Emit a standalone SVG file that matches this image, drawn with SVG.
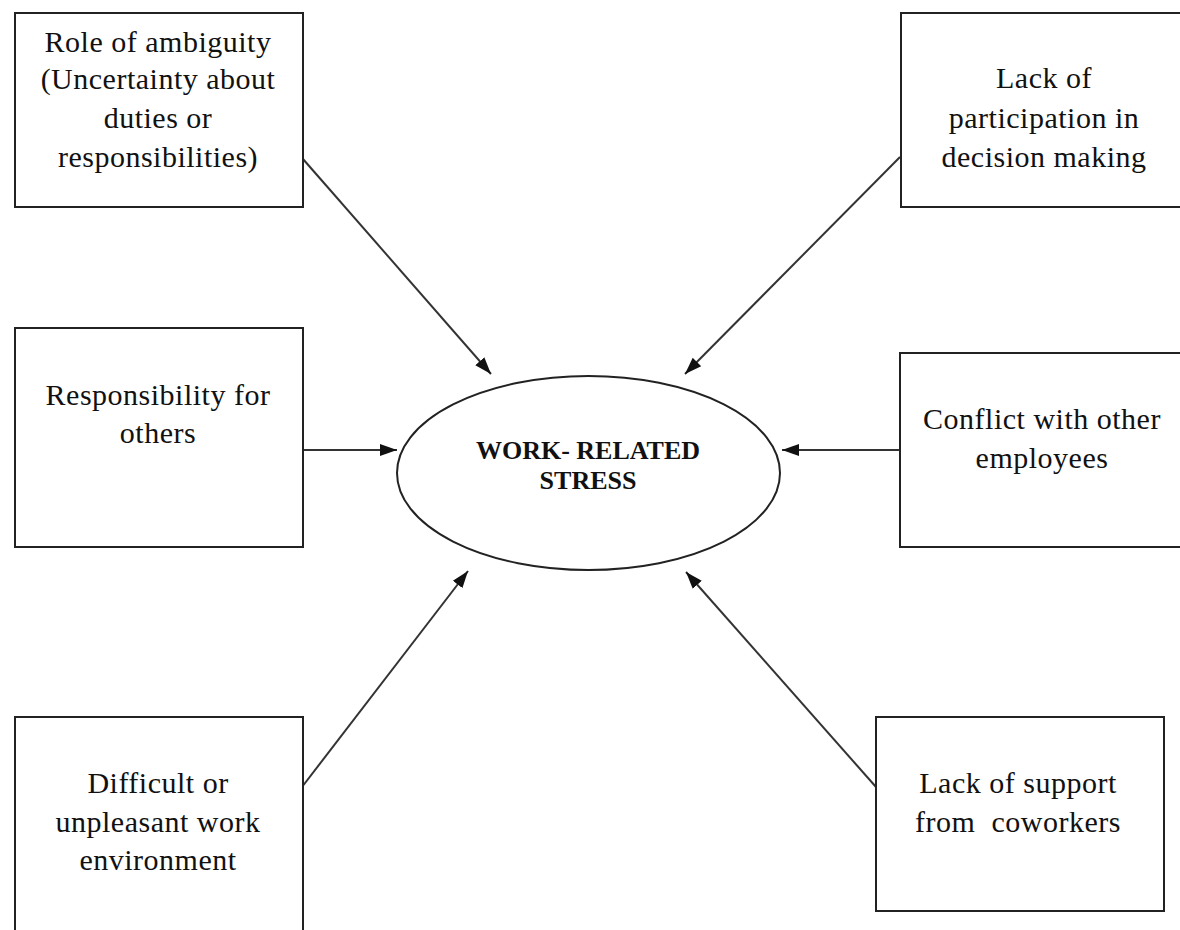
<svg xmlns="http://www.w3.org/2000/svg" width="1180" height="930" viewBox="0 0 1180 930">
<style>
.box{fill:#fff;stroke:#222;stroke-width:2}
.lbl{font-family:"Liberation Serif","Times New Roman",serif;font-size:30px;letter-spacing:0.5px;fill:#111;text-anchor:middle}
.title{font-family:"Liberation Serif","Times New Roman",serif;font-size:26px;font-weight:bold;fill:#111;text-anchor:middle}
.conn{stroke:#333;stroke-width:2;fill:none;marker-end:url(#ah)}
</style>
<defs>
<marker id="ah" markerUnits="userSpaceOnUse" markerWidth="18" markerHeight="14" refX="17" refY="7" orient="auto">
<path d="M0,1 L17,7 L0,13 Z" fill="#111"/>
</marker>
</defs>
<rect width="1180" height="930" fill="#fff"/>
<g id="connectors">
<line class="conn" x1="303" y1="159" x2="491" y2="374"/>
<line class="conn" x1="900" y1="157" x2="685" y2="374"/>
<line class="conn" x1="303" y1="450" x2="397" y2="450"/>
<line class="conn" x1="900" y1="450" x2="782" y2="450"/>
<line class="conn" x1="302" y1="787" x2="468" y2="571"/>
<line class="conn" x1="876" y1="787" x2="686" y2="572"/>
</g>
<g id="center">
<ellipse cx="588.5" cy="473" rx="191.5" ry="97" fill="#fff" stroke="#222" stroke-width="2"/>
<text class="title" x="588" y="459">WORK- RELATED</text>
<text class="title" x="588" y="489">STRESS</text>
</g>
<g id="role-ambiguity">
<rect class="box" x="15" y="13" width="288" height="194"/>
<text class="lbl" x="158" y="52">Role of ambiguity</text>
<text class="lbl" x="158" y="89">(Uncertainty about</text>
<text class="lbl" x="158" y="128">duties or</text>
<text class="lbl" x="158" y="167">responsibilities)</text>
</g>
<g id="lack-participation">
<rect class="box" x="901" y="13" width="290" height="194"/>
<text class="lbl" x="1044" y="88">Lack of</text>
<text class="lbl" x="1044" y="128">participation in</text>
<text class="lbl" x="1044" y="167">decision making</text>
</g>
<g id="responsibility-others">
<rect class="box" x="15" y="328" width="288" height="219"/>
<text class="lbl" x="158" y="405">Responsibility for</text>
<text class="lbl" x="158" y="443">others</text>
</g>
<g id="conflict">
<rect class="box" x="900" y="353" width="290" height="194"/>
<text class="lbl" x="1042" y="429">Conflict with other</text>
<text class="lbl" x="1042" y="468">employees</text>
</g>
<g id="difficult-environment">
<rect class="box" x="15" y="717" width="288" height="230"/>
<text class="lbl" x="158" y="793">Difficult or</text>
<text class="lbl" x="158" y="832">unpleasant work</text>
<text class="lbl" x="158" y="870">environment</text>
</g>
<g id="lack-support">
<rect class="box" x="876" y="717" width="288" height="194"/>
<text class="lbl" x="1018" y="793">Lack of support</text>
<text class="lbl" x="1018" y="832" xml:space="preserve">from  coworkers</text>
</g>
</svg>
